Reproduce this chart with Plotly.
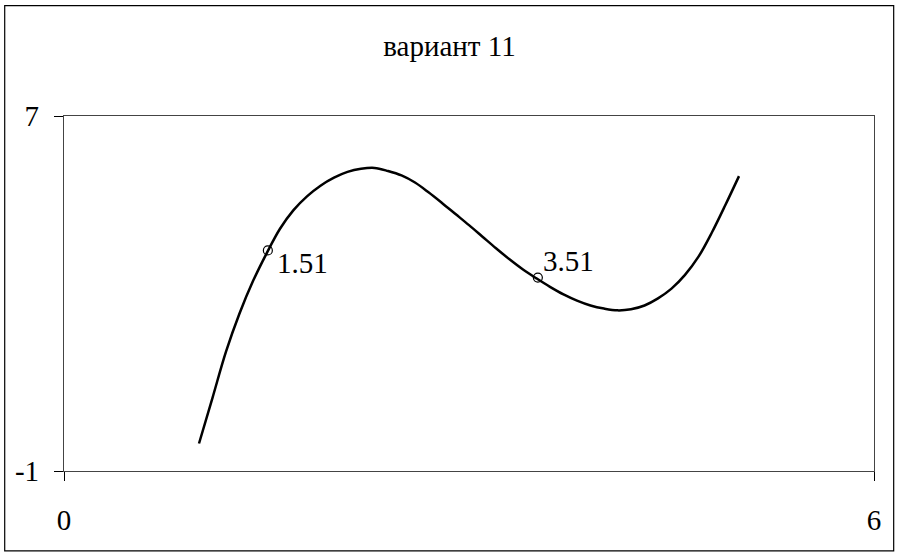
import plotly.graph_objects as go

# Curve (x step 0.1)
curve_x = [1.0, 1.1, 1.2, 1.3, 1.4, 1.5, 1.6, 1.7, 1.8, 1.9,
           2.0, 2.1, 2.2, 2.3, 2.4, 2.5, 2.6, 2.7, 2.8, 2.9,
           3.0, 3.1, 3.2, 3.3, 3.4, 3.5, 3.6, 3.7, 3.8, 3.9,
           4.0, 4.1, 4.2, 4.3, 4.4, 4.5, 4.6, 4.7, 4.8, 4.9, 5.0]
curve_y = [-0.38, 0.65, 1.69, 2.55, 3.28, 3.90, 4.46, 4.88, 5.19, 5.43,
           5.61, 5.74, 5.81, 5.83, 5.76, 5.66, 5.50, 5.28, 5.04, 4.79,
           4.54, 4.28, 4.02, 3.77, 3.54, 3.34, 3.15, 2.98, 2.84, 2.73,
           2.66, 2.62, 2.645, 2.73, 2.89, 3.11, 3.42, 3.83, 4.38, 5.00, 5.645]

# Marked points
mark_x = [1.51, 3.51]
mark_y = [3.97, 3.36]
mark_labels = ["1.51", "3.51"]
label_dx = [7, 3]
label_dy = [-13, 17]

title_text = "вариант 11"
x_ticks = [0, 6]
y_ticks = [-1, 7]

FONT = '"Liberation Serif", "Times New Roman", serif'
FS = 29

fig = go.Figure()
fig.add_trace(go.Scatter(
    x=curve_x, y=curve_y, mode="lines",
    line=dict(color="black", width=2.5, shape="spline", smoothing=1.0),
    hoverinfo="skip", showlegend=False,
))
fig.add_trace(go.Scatter(
    x=mark_x, y=mark_y, mode="markers",
    marker=dict(symbol="circle-open", size=9, color="black", line=dict(width=1.2)),
    showlegend=False,
))
for mx, my, lab, dx, dy in zip(mark_x, mark_y, mark_labels, label_dx, label_dy):
    fig.add_annotation(x=mx, y=my, text=lab, showarrow=False,
                       xanchor="left", yanchor="middle", xshift=dx, yshift=dy,
                       font=dict(family=FONT, size=FS, color="black"))

# outer chart border
fig.add_shape(type="rect", xref="paper", yref="paper",
              x0=-0.0732, x1=1.0243, y0=-0.225, y1=1.3108,
              line=dict(color="black", width=1.2), fillcolor="rgba(0,0,0,0)", layer="below")

fig.update_layout(
    width=899, height=556,
    margin=dict(l=64, r=25, t=116, b=85),
    paper_bgcolor="white", plot_bgcolor="white",
    font=dict(family=FONT, size=FS, color="black"),
    title=dict(text=title_text, x=0.5, xref="container", xanchor="center",
               y=1 - 46 / 556, yref="container", yanchor="middle",
               font=dict(family=FONT, size=FS, color="black")),
    showlegend=False,
)

fig.update_xaxes(range=[0, 6], tickvals=x_ticks, ticktext=[str(v) for v in x_ticks],
                 showgrid=False, zeroline=False, showline=True, mirror=True,
                 linecolor="#444", linewidth=1.2, ticks="outside", ticklen=9,
                 tickcolor="black", tickwidth=1, ticklabelstandoff=14)
fig.update_yaxes(range=[-1, 7], tickvals=y_ticks, ticktext=[str(v) for v in y_ticks],
                 showgrid=False, zeroline=False, showline=True, mirror=True,
                 linecolor="#444", linewidth=1.2, ticks="outside", ticklen=9,
                 tickcolor="black", tickwidth=1, ticklabelstandoff=9)

fig.write_html("out.html", config={"displayModeBar": False},
               post_script="document.body.style.margin='0px';")
